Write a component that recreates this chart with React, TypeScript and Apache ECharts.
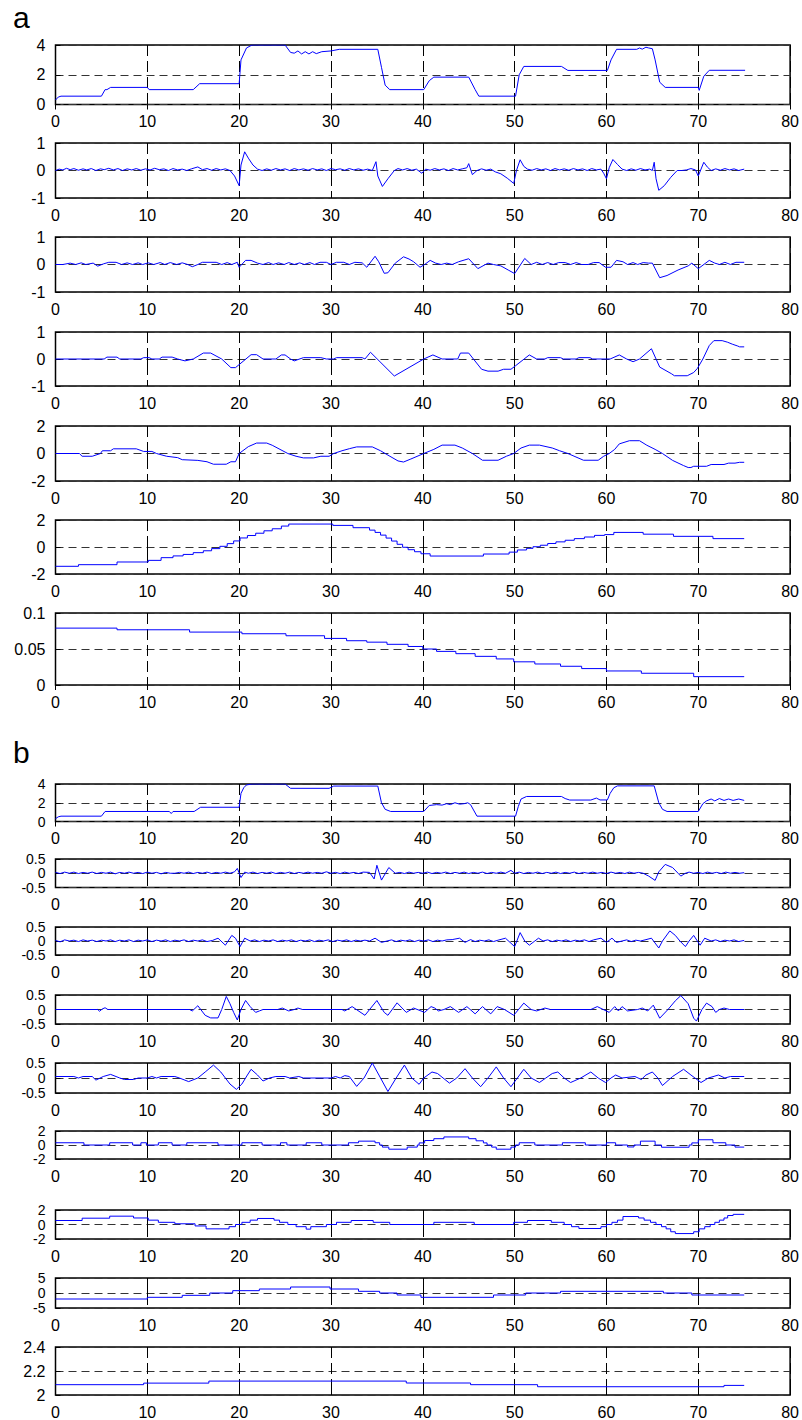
import React, { useEffect, useRef } from "react";
import * as echarts from "echarts";

type P = [number, number];

// ---------- panel a ----------
const a1Data: P[] = [[0,0.3],[0.3,0.5],[0.6,0.56],[5.0,0.56],[5.4,1.0],[5.6,1.0],[6.0,1.15],[10.0,1.15],[10.2,1.0],[15.0,1.0],[15.7,1.4],[20.0,1.4],[20.2,3.0],[20.8,3.8],[21.4,4.0],[25.0,4.0],[25.6,3.5],[26.0,3.45],[26.4,3.6],[26.8,3.4],[27.2,3.55],[27.6,3.4],[28.0,3.55],[28.4,3.42],[29.0,3.55],[30.0,3.6],[30.9,3.71],[35.1,3.71],[35.5,2.5],[35.9,1.3],[36.4,1.0],[40.1,1.0],[40.7,1.6],[41.2,1.84],[45.0,1.84],[45.7,1.0],[46.1,0.56],[50.1,0.56],[50.5,2.0],[51.0,2.56],[55.1,2.56],[55.8,2.29],[60.1,2.29],[60.5,3.0],[61.1,3.71],[63.3,3.71],[63.6,3.8],[63.9,3.72],[64.3,3.85],[64.6,3.8],[65.0,3.75],[65.3,3.0],[65.8,1.5],[66.4,1.15],[70.0,1.15],[70.1,0.95],[70.6,1.9],[71.2,2.3],[75.1,2.3]];

const a2Data: P[] = [[0,0],[0.4,0.05],[0.8,0.02],[1.2,0.08],[1.6,0.03],[2.0,0.07],[2.5,0.01],[3.0,0.06],[3.4,0.02],[3.9,0.07],[4.4,0.0],[4.9,0.06],[5.3,0.03],[5.8,0.08],[6.3,0.02],[6.8,0.07],[7.3,0.0],[7.8,0.06],[8.3,0.02],[8.8,0.07],[9.3,0.01],[9.8,0.06],[10.3,0.02],[10.8,0.08],[11.3,0.03],[11.8,0.06],[12.3,0.0],[12.8,0.07],[13.3,0.02],[13.8,0.05],[14.3,0.0],[14.8,0.06],[15.5,0.13],[16.0,0.03],[16.5,0.07],[17.0,0.01],[17.5,0.07],[18.0,0.02],[18.5,0.06],[19.0,0.0],[19.5,-0.2],[20.0,-0.55],[20.2,0.2],[20.6,0.68],[21.0,0.45],[21.5,0.2],[22.0,0.05],[22.5,0.0],[23.0,0.06],[23.5,0.01],[24.0,0.07],[24.5,0.02],[25,0.06],[25.5,0],[26,0.07],[26.5,0.02],[27,0.06],[27.5,0.01],[28,0.07],[28.5,0.02],[29,0.06],[29.5,0],[30,0.07],[30.5,0.03],[31,0.06],[31.5,0.01],[32,0.07],[32.5,0.02],[33,0.06],[33.5,0.01],[34,0.05],[34.5,0.0],[34.9,0.32],[35.1,-0.2],[35.6,-0.58],[36.2,-0.3],[36.9,0.0],[37.3,0.07],[37.8,0.02],[38.3,0.07],[38.8,0.01],[39.3,0.05],[39.9,-0.1],[40.3,0.05],[40.8,0.01],[41.3,0.07],[41.8,0.02],[42.3,0.06],[42.8,0.0],[43.3,0.07],[43.8,0.02],[44.3,0.06],[44.8,0.1],[45.0,0.25],[45.4,-0.15],[45.9,0.0],[46.4,0.06],[46.9,0.01],[47.4,0.05],[47.9,-0.05],[48.5,-0.12],[49.2,-0.28],[49.9,-0.47],[50.2,0.0],[50.6,0.39],[51.0,0.15],[51.4,0.05],[51.9,0.01],[52.4,0.07],[52.9,0.02],[53.4,0.06],[53.9,0.0],[54.4,0.07],[54.9,0.02],[55.4,0.06],[55.9,0.01],[56.4,0.07],[56.9,0.02],[57.4,0.06],[57.9,0.0],[58.4,0.07],[58.9,0.02],[59.4,0.05],[59.7,-0.1],[60.0,-0.3],[60.3,0.1],[60.7,0.4],[61.2,0.22],[61.7,0.05],[62.2,0.0],[62.7,0.06],[63.2,0.01],[63.7,0.07],[64.2,0.02],[64.7,0.05],[65.0,0.0],[65.2,0.3],[65.4,-0.3],[65.7,-0.72],[66.3,-0.55],[67.0,-0.25],[67.7,0.0],[68.2,0.0],[68.7,0.02],[69.2,0.07],[69.7,0.02],[70.0,-0.2],[70.6,0.3],[71.0,0.12],[71.4,0.0],[71.9,0.06],[72.4,0.01],[72.9,0.07],[73.4,0.02],[73.9,0.06],[74.4,0.0],[75.0,0.05]];

const a3Data: P[] = [[0,0],[0.8,0.0],[1.6,0.05],[2.2,0.0],[2.8,0.06],[3.3,0.0],[4.1,0.05],[4.6,-0.06],[5.2,0.02],[5.8,0.08],[6.6,0.08],[7.2,0.0],[7.8,0.06],[8.4,0.0],[9.0,0.06],[9.5,0.0],[10.1,0.06],[10.7,0.0],[11.4,0.07],[11.9,0.0],[12.5,0.07],[13.2,0.0],[13.8,0.06],[14.4,0.0],[14.9,-0.08],[15.5,0.0],[16.0,0.08],[17.5,0.08],[18.1,0.0],[18.7,0.07],[19.2,0.0],[19.8,0.08],[20.0,-0.1],[20.7,0.15],[21.3,0.15],[22.0,0.05],[22.6,0.0],[23.2,0.07],[23.7,0.0],[24.3,0.06],[24.9,0.0],[25.4,0.07],[26.0,0.0],[26.6,0.06],[27.1,0.0],[27.7,0.07],[28.2,0.0],[28.8,0.08],[29.5,0.08],[30.0,0.0],[30.6,0.08],[31.4,0.08],[32.0,0.0],[32.6,0.08],[33.4,0.06],[33.9,-0.1],[34.8,0.3],[35.2,0.1],[35.8,-0.32],[36.2,-0.3],[37.0,0.05],[37.9,0.28],[38.5,0.2],[39.0,0.1],[39.7,-0.1],[40.2,0.0],[40.8,0.15],[41.4,0.05],[42.0,0.0],[42.6,0.05],[43.2,0.0],[43.9,0.1],[45.0,0.21],[46.0,-0.15],[47.1,0.05],[47.7,0.0],[48.5,-0.05],[49.3,-0.2],[50.0,-0.33],[51.1,0.22],[51.8,0.0],[52.4,0.08],[53.0,0.0],[53.6,0.07],[54.2,0.0],[54.8,0.07],[55.5,0.07],[56.1,0.0],[56.7,0.07],[57.3,0.0],[58.0,0.0],[58.6,0.07],[59.2,0.07],[59.9,-0.1],[60.5,-0.1],[61.1,0.15],[61.8,0.1],[62.3,0.0],[62.9,0.07],[63.4,0.0],[64.0,0.07],[64.6,0.05],[65.0,0.05],[65.8,-0.48],[66.6,-0.4],[67.8,-0.2],[68.9,-0.05],[69.3,0.05],[70.0,-0.15],[71.2,0.15],[71.8,0.05],[72.3,0.0],[72.9,0.08],[73.5,0.0],[74.1,0.08],[75.0,0.08]];

const a4Data: P[] = [[0,0],[5.3,0],[5.6,0.07],[6.7,0.07],[7.0,0],[9.3,0],[9.6,0.05],[10.2,0.05],[10.5,0],[11.3,0],[11.6,0.07],[12.7,0.07],[13.3,0],[14.1,-0.07],[15.0,0],[16.1,0.22],[16.9,0.22],[18.1,0],[19.1,-0.32],[19.6,-0.32],[21.3,0.16],[21.9,0.16],[22.6,0],[24.0,0],[24.6,0.15],[25.0,0.15],[25.6,0],[26.0,-0.07],[27.0,0.05],[28.9,0.05],[29.5,0],[30.3,0],[30.6,0.05],[33.4,0.05],[33.7,0],[34.3,0.25],[36.9,-0.63],[40.1,0],[41.1,0.15],[42.1,0],[43.8,0],[44.1,0.22],[45.0,0.22],[46.4,-0.38],[47.1,-0.45],[48.2,-0.45],[48.8,-0.38],[49.6,-0.38],[50.1,-0.25],[51.6,0.15],[52.4,0],[53.3,0],[53.6,0.05],[55.0,0.05],[55.3,0],[56.7,0],[57.0,0.05],[58.2,0.05],[58.5,0],[60.4,0],[61.4,0.15],[62.2,0],[62.9,-0.1],[63.6,0],[64.9,0.38],[65.8,-0.3],[67.1,-0.55],[67.4,-0.62],[68.8,-0.62],[69.5,-0.5],[69.9,-0.35],[70.5,0],[71.2,0.5],[71.7,0.68],[72.6,0.68],[73.2,0.62],[73.7,0.55],[74.3,0.48],[74.5,0.45],[75.0,0.45]];

const a5Data: P[] = [[0,0],[2.6,0],[2.9,-0.2],[4.0,-0.2],[4.9,0],[5.1,0.2],[6.0,0.2],[6.3,0.34],[8.8,0.34],[9.6,0.15],[10.5,0.15],[11.0,0],[12.1,-0.2],[13.3,-0.3],[13.8,-0.45],[15.5,-0.5],[16.5,-0.6],[17.2,-0.78],[18.6,-0.78],[19.1,-0.6],[19.6,-0.6],[20.0,0],[21.0,0.5],[21.9,0.76],[23.0,0.76],[23.6,0.6],[25.3,0],[26.2,-0.2],[27.0,-0.32],[28.1,-0.32],[28.9,-0.2],[29.8,-0.2],[30.3,0],[31.2,0.2],[32.0,0.35],[32.8,0.48],[34.5,0.48],[35.4,0.2],[35.9,0],[37.3,-0.54],[37.9,-0.62],[38.7,-0.4],[40.1,0],[41.2,0.3],[42.1,0.61],[43.5,0.61],[44.3,0.4],[45.4,0],[46.5,-0.49],[48.2,-0.49],[49.1,-0.2],[49.9,0],[50.7,0.4],[51.6,0.61],[52.7,0.61],[54.1,0.4],[54.9,0.2],[55.8,0],[57.5,-0.49],[59.1,-0.49],[59.7,-0.2],[60.3,0],[60.9,0.3],[61.4,0.7],[62.5,0.93],[63.6,0.93],[64.4,0.6],[65.3,0.3],[66.1,0],[67.2,-0.5],[68.4,-0.88],[68.9,-1.02],[69.2,-1.02],[69.5,-0.93],[70.9,-0.93],[71.4,-0.8],[72.8,-0.8],[73.3,-0.7],[74.0,-0.7],[74.5,-0.64],[75.0,-0.64]];

const a6Data: P[] = [[0,-1.43],[2.5,-1.31],[6.7,-1.11],[10.1,-0.99],[11.5,-0.79],[12.8,-0.66],[13.9,-0.55],[15.0,-0.42],[16.1,-0.28],[17.0,-0.12],[17.9,0.05],[18.7,0.25],[19.4,0.45],[20.1,0.67],[20.9,0.85],[21.8,1.02],[22.7,1.2],[23.6,1.35],[24.6,1.55],[25.4,1.7],[30.2,1.6],[32.4,1.43],[34.2,1.25],[34.8,1.08],[35.4,0.88],[36.0,0.66],[36.6,0.44],[37.2,0.2],[37.8,-0.02],[38.4,-0.2],[39.1,-0.35],[39.8,-0.5],[40.8,-0.67],[46.6,-0.52],[49.4,-0.38],[50.3,-0.22],[51.3,-0.1],[52.0,0.02],[52.8,0.13],[53.6,0.26],[54.5,0.38],[55.5,0.5],[56.5,0.62],[57.6,0.74],[58.7,0.86],[59.8,0.92],[60.8,1.08],[64.0,0.95],[67.3,0.79],[71.6,0.62],[75.0,0.62]];

const a7Data: P[] = [[0,0.079],[6.7,0.0767],[14.6,0.0735],[20.3,0.0712],[25.1,0.0684],[29.3,0.0647],[31.7,0.0615],[33.9,0.0595],[36.1,0.0565],[38.4,0.0535],[40.0,0.05],[41.5,0.0467],[43.6,0.0435],[45.7,0.0398],[48.0,0.0362],[49.9,0.0322],[52.2,0.0292],[55.0,0.026],[57.3,0.0228],[60.0,0.0195],[63.8,0.0163],[69.5,0.0116],[75.0,0.0116]];

// ---------- panel b ----------
const b1Data: P[] = [[0,0.3],[0.3,0.5],[0.6,0.57],[5.0,0.57],[5.4,1.07],[12.4,1.07],[12.6,0.85],[12.8,1.07],[15.1,1.07],[15.8,1.52],[20.0,1.52],[20.2,3.0],[20.5,3.6],[20.8,3.9],[21.4,4.0],[25.0,4.0],[25.6,3.54],[29.8,3.54],[30.3,3.78],[35.1,3.78],[35.5,2.0],[35.9,1.3],[36.5,1.07],[40.1,1.07],[40.7,1.71],[41.5,1.8],[42.1,1.75],[42.6,1.9],[43.0,1.8],[43.5,2.0],[44.0,1.85],[44.5,1.9],[44.9,2.0],[45.2,1.8],[45.9,0.57],[50.1,0.57],[50.4,1.6],[50.7,2.4],[51.3,2.67],[55.1,2.67],[55.5,2.45],[56.0,2.29],[58.3,2.29],[58.9,2.5],[59.3,2.3],[60.1,2.3],[60.4,3.0],[60.8,3.6],[61.2,3.8],[65.2,3.8],[65.7,2.0],[66.1,1.3],[66.6,1.07],[70.0,1.07],[70.5,1.9],[70.9,2.2],[71.4,2.4],[71.8,2.2],[72.3,2.45],[72.8,2.25],[73.3,2.4],[73.8,2.25],[74.4,2.4],[75.0,2.25]];

const b2Data: P[] = [[0,0.03],[0.5,-0.01],[1,0.04],[1.5,0],[2,0.04],[2.5,-0.01],[3,0.03],[3.5,0],[4,0.04],[4.5,-0.01],[5,0.03],[5.5,0],[6,0.04],[6.5,-0.02],[7,0.03],[7.5,0],[8,0.04],[8.5,0],[9,0.03],[9.5,-0.01],[10,0.04],[10.5,0],[11,0.03],[11.5,-0.02],[12,0.03],[12.5,0],[13,0.0],[13.5,0.03],[14,0],[14.5,0.04],[15,-0.01],[15.5,0.03],[16,0],[16.5,0.04],[17,-0.01],[17.5,0.03],[18,0],[18.5,0.04],[19,0],[19.5,0.05],[19.8,0.17],[20.2,-0.15],[20.6,0.04],[21,0],[21.5,0.04],[22,-0.01],[22.5,0.03],[23,0],[23.5,0.04],[24,-0.01],[24.5,0.03],[25,0],[25.5,0.04],[26,-0.01],[26.5,0.03],[27,0],[27.5,0.04],[28,0],[28.5,0.03],[29,0],[29.5,0.05],[30,0],[30.5,0.03],[31,-0.01],[31.5,0.04],[32,0],[32.5,0.03],[33,-0.01],[33.5,0.04],[34.2,0.03],[34.7,-0.2],[35.0,0.28],[35.5,-0.24],[36.3,0.2],[37.0,0],[37.5,0.03],[38,-0.01],[38.5,0.04],[39,0],[39.5,0.03],[40,0],[40.5,0.04],[41,-0.01],[41.5,0.03],[42,0],[42.5,0.04],[43,-0.01],[43.5,0.03],[44,0],[44.5,0.04],[45,-0.01],[45.5,0.03],[46,0],[46.5,0.04],[47,-0.01],[47.5,0.03],[48,0],[48.5,0.04],[49,0],[49.6,0.1],[50,0],[50.5,0.04],[51,-0.01],[51.5,0.03],[52,0],[52.5,0.04],[53,-0.01],[53.5,0.03],[54,0],[54.5,0.04],[55,-0.01],[55.5,0.03],[56,0],[56.5,0.04],[57,-0.01],[57.5,0.03],[58,0],[58.5,0.04],[59,0],[59.5,0.03],[60,-0.01],[60.5,0.04],[61,0],[61.5,0.03],[62,-0.01],[62.5,0.04],[63,0],[63.5,0.03],[64,0],[64.6,-0.1],[65.3,-0.25],[65.7,0.05],[66.4,0.31],[67.2,0.2],[67.8,0],[68.1,-0.1],[68.6,0],[69,0.04],[69.5,0],[70,0.03],[70.5,-0.01],[71,0.04],[71.5,0],[72,0.03],[72.5,-0.01],[73,0.04],[73.5,0],[74,0.03],[74.5,0],[75,0.02]];

const b3Data: P[] = [[0,0.02],[0.5,-0.03],[1,0.04],[1.5,0],[2,0.03],[2.5,-0.02],[3,0.04],[3.5,0],[4,0.03],[4.5,-0.02],[5,0.03],[5.5,0],[6,0.04],[6.5,-0.02],[7,0.03],[7.5,0],[8,0.04],[8.5,-0.02],[9,0.03],[9.5,0],[10,0.04],[10.5,-0.02],[11,0.03],[11.5,0],[12,0.04],[12.5,-0.02],[13,0.03],[13.5,0],[14,0.04],[14.5,-0.02],[15,0.03],[15.5,0],[16,0.04],[16.5,-0.02],[17.1,0.02],[17.7,0.1],[18.5,-0.15],[19.2,0.2],[19.6,0.1],[20.1,-0.2],[20.6,0.1],[21.2,0],[21.7,0.04],[22.2,-0.02],[22.7,0.03],[23.2,0],[23.7,0.04],[24.2,-0.02],[24.7,0.03],[25.2,0],[25.7,0.04],[26.2,-0.02],[26.7,0.03],[27.2,0],[27.7,0.04],[28.2,-0.02],[28.7,0.03],[29.2,0],[29.7,0.04],[30.2,-0.02],[30.7,0.03],[31.2,0],[31.7,0.04],[32.2,-0.02],[32.7,0.03],[33.2,0],[33.7,0.03],[34.2,0],[34.8,0.1],[35.5,-0.05],[36.1,0],[36.6,0.04],[37.1,-0.02],[37.6,0.03],[38.1,0],[38.6,0.04],[39.1,-0.02],[39.6,0.03],[40.1,0],[40.6,0.04],[41.1,-0.02],[41.6,0.03],[42.1,0],[42.6,0.04],[43.2,0.05],[44.0,0.1],[44.6,-0.05],[45.2,0.05],[45.7,-0.02],[46.2,0.03],[46.7,0],[47.2,0.04],[47.7,-0.02],[48.2,0.03],[49.0,0.1],[50.0,-0.2],[50.6,0.3],[51.1,0],[51.6,-0.15],[52.2,0],[52.6,0.1],[53.1,0],[53.6,0.04],[54.1,-0.02],[54.6,0.03],[55.1,0],[55.6,0.04],[56.1,-0.02],[56.6,0.03],[57.1,0],[57.6,0.04],[58.1,-0.02],[58.6,0.04],[59.4,0.1],[60.0,-0.05],[60.6,0.1],[61.1,-0.05],[61.7,0],[62.2,0.04],[62.7,-0.02],[63.2,0.03],[63.7,0],[64.2,0.04],[64.9,0.1],[65.7,-0.25],[66.1,0],[66.9,0.36],[67.5,0.2],[68.0,0],[68.6,-0.2],[69.0,0],[69.5,0.2],[69.9,0],[70.2,-0.15],[70.7,0.1],[71.4,0],[71.9,0.04],[72.4,-0.02],[72.9,0.03],[73.4,0],[73.9,0.04],[74.4,-0.02],[75,0.02]];

const b4Data: P[] = [[0,0],[4.6,0],[4.8,-0.06],[5.1,0.02],[5.4,0.06],[5.7,0],[14.6,0],[14.9,-0.05],[15.5,0.13],[16.3,-0.2],[16.9,-0.29],[17.7,-0.29],[18.1,0],[18.6,0.45],[19.0,0.2],[19.4,-0.1],[19.8,-0.36],[20.2,0],[20.7,0.31],[21.2,0.1],[21.8,-0.1],[22.2,-0.05],[22.6,0],[24.2,0],[24.7,0.05],[25.4,-0.05],[26.0,0],[26.4,0.05],[26.9,0],[31.2,0],[31.5,-0.05],[32.3,0.1],[33.7,-0.2],[35.0,0.31],[35.8,-0.1],[36.2,-0.2],[37.2,0.23],[38.2,-0.1],[39.0,0.05],[39.8,-0.05],[40.2,-0.1],[40.9,0.1],[41.3,0.05],[41.7,-0.05],[42.3,0],[43.0,0.1],[43.9,-0.1],[44.8,0.1],[45.7,-0.15],[46.5,0.1],[47.4,-0.15],[48.1,0.1],[48.9,0],[49.9,-0.2],[51.0,0.22],[51.8,0],[52.4,-0.05],[53.3,0.05],[53.9,0],[58.3,0],[59.0,0.1],[60.3,-0.1],[60.9,0.1],[61.3,-0.05],[61.7,0.1],[62.3,-0.05],[63.4,0],[63.9,0.05],[64.5,-0.05],[65.1,0.15],[65.8,-0.3],[66.7,0],[67.5,0.3],[68.1,0.48],[68.9,0.2],[69.5,-0.3],[69.8,-0.4],[70.4,0],[70.9,0.22],[71.5,0.1],[71.9,-0.1],[72.3,0],[72.8,0.05],[73.4,0],[75,0]];

const b5Data: P[] = [[0,0.05],[2.0,0.05],[2.5,0],[3.0,0.05],[4.0,0.05],[4.4,-0.07],[5.2,0.05],[6.0,0.12],[7.0,0],[7.5,-0.05],[8.5,-0.05],[9.0,0],[10.0,0],[10.5,0.05],[11.0,0],[11.5,0.05],[13.0,0.05],[13.5,0],[14.5,-0.12],[15.5,0],[16.3,0.2],[17.2,0.43],[18.0,0.2],[19.0,-0.2],[19.7,-0.38],[20.3,-0.2],[20.9,0.1],[21.3,0.29],[22.0,0.1],[22.6,-0.1],[23.3,0],[24.0,0.05],[25.0,0.05],[25.5,0],[26.5,0.05],[27.0,0],[30.0,0],[30.5,0.05],[31.0,0],[31.5,0.08],[32.0,0.05],[32.8,-0.28],[33.6,0],[34.5,0.5],[35.4,0],[36.2,-0.45],[37.1,0],[38.0,0.43],[38.8,0],[39.6,-0.21],[40.1,0],[41.0,0.2],[41.6,0.15],[42.9,-0.17],[43.7,0],[44.6,0.31],[45.4,0],[46.3,-0.29],[47.1,0],[48.0,0.37],[48.8,0],[49.6,-0.29],[50.3,0],[51.0,0.29],[51.8,0],[52.7,-0.15],[53.4,0],[54.1,0.15],[54.7,0.2],[55.4,0],[56.1,-0.15],[57.2,0],[58.3,0.2],[59.1,0],[59.9,-0.15],[60.5,0],[61.0,0.1],[61.7,0],[63.1,0.05],[63.8,-0.05],[64.3,0.1],[65.0,0.2],[65.6,0],[66.1,-0.25],[67.2,0.05],[68.4,0.29],[69.2,0.1],[70.3,-0.15],[71.1,0],[72.2,0.1],[72.9,0],[73.5,0.05],[75.0,0.05]];

const b6Data: P[] = [[0,0.32],[3.1,0],[5.9,0.32],[8.4,0],[9.3,0.32],[9.9,0],[11.2,0.32],[12.7,0],[14.3,0.32],[17.7,0],[20.3,0.32],[22.5,0],[24.5,0.32],[25.2,0],[27.3,0.32],[29.0,0],[31.9,0.32],[33.0,0.55],[34.8,0.32],[35.3,0],[35.6,-0.3],[36.3,-0.6],[38.3,-0.3],[39.4,0],[39.6,0.3],[40.2,0.64],[41.2,0.9],[42.3,1.15],[45.0,0.9],[45.8,0.6],[46.6,0.3],[47.0,0],[47.5,-0.3],[48.0,-0.6],[49.6,-0.3],[50.1,0],[50.5,0.32],[52.2,0],[55.2,0.32],[57.7,0],[60.0,0.32],[61.0,0],[62.3,-0.28],[63.0,0],[63.7,0.55],[65.3,0],[66.0,-0.32],[69.0,0],[69.3,0.3],[70.0,0.75],[71.6,0.32],[73.0,0],[74.0,-0.3],[75.0,-0.3]];

const b7Data: P[] = [[0,0.55],[2.9,0.87],[5.9,1.15],[8.5,0.9],[10.1,0.6],[11.2,0.3],[13.0,0.1],[15.2,-0.2],[16.4,-0.6],[18.9,-0.3],[19.6,0],[20.3,0.3],[21.2,0.6],[22.0,0.83],[23.8,0.6],[24.4,0.3],[25.3,0],[26.2,-0.3],[27.3,-0.64],[27.8,-0.3],[29.5,0],[30.6,0.3],[32.2,0.55],[34.6,0.3],[36.4,0],[41.2,0.3],[45.6,0],[49.9,0.3],[51.4,0.55],[54.0,0.3],[55.4,0],[56.2,-0.3],[57.0,-0.55],[59.4,-0.3],[60.0,0],[60.6,0.3],[61.2,0.6],[61.8,1.1],[63.5,0.9],[64.1,0.6],[64.8,0.3],[65.4,0],[66.0,-0.3],[66.5,-0.6],[67.0,-1.0],[67.5,-1.25],[69.5,-1.0],[70.1,-0.6],[70.7,-0.3],[71.3,0],[71.8,0.3],[72.3,0.6],[72.8,0.9],[73.2,1.24],[73.8,1.4],[75.0,1.4]];

const b8Data: P[] = [[0,-2.0],[10.0,-1.44],[13.8,-0.78],[16.8,0],[19.3,0.78],[22.2,1.33],[25.6,2.0],[29.9,1.33],[33.0,0.56],[35.3,0],[37.2,-0.67],[39.8,-1.44],[47.7,-0.67],[51.2,0],[55.0,0.56],[66.2,0],[69.3,-0.67],[75.0,-0.67]];

const b9Data: P[] = [[0,2.086],[9.6,2.099],[16.7,2.116],[38.2,2.1],[45.2,2.086],[52.5,2.069],[72.8,2.08],[75.0,2.08]];

// axis ranges: [min, max, interval]
const yRanges: [number, number, number][] = [
  [0, 4, 2], [-1, 1, 1], [-1, 1, 1], [-1, 1, 1], [-2, 2, 2], [-2, 2, 2], [0, 0.1, 0.05],
  [0, 4, 2], [-0.5, 0.5, 0.5], [-0.5, 0.5, 0.5], [-0.5, 0.5, 0.5], [-0.5, 0.5, 0.5],
  [-2, 2, 2], [-2, 2, 2], [-5, 5, 5], [2, 2.4, 0.2],
];
const xRange: [number, number, number] = [0, 80, 10];
const seriesData: P[][] = [a1Data, a2Data, a3Data, a4Data, a5Data, a6Data, a7Data, b1Data, b2Data, b3Data, b4Data, b5Data, b6Data, b7Data, b8Data, b9Data];
const stepped: boolean[] = [false, false, false, false, false, true, true, false, false, false, false, false, true, true, true, true];
const panelLabels = ["a", "b"];

// layout (pixels)
const panelTops = [45, 143, 237, 332, 426, 520, 613, 784, 859, 927, 995, 1063, 1131, 1210, 1278, 1347];
const panelBottoms = [104.5, 198, 292, 386, 481, 574, 685, 821.5, 887.5, 955, 1024, 1093, 1159, 1239, 1308, 1395.5];
const LEFT = 55.5;
const RIGHT = 791;

const FONT = '"Liberation Sans", Arial, Helvetica, sans-serif';

export default function App() {
  const ref = useRef<HTMLDivElement>(null);
  useEffect(() => {
    if (!ref.current) return;
    const chart = echarts.init(ref.current, undefined, { renderer: "svg" });
    const n = seriesData.length;
    const grids = panelTops.map((t, i) => ({
      left: LEFT,
      top: t,
      width: RIGHT - LEFT,
      height: panelBottoms[i] - t,
      show: true,
      borderColor: "#000",
      borderWidth: 1.5,
      backgroundColor: "transparent",
      containLabel: false,
    }));
    const fmt = (v: number) => String(+v.toFixed(4));
    const tick = { show: true, inside: true, length: 5, lineStyle: { color: "#000", width: 1 } };
    const xAxes: any[] = [];
    for (let i = 0; i < n; i++) {
      xAxes.push({
        type: "value", gridIndex: i, min: xRange[0], max: xRange[1], interval: xRange[2],
        axisLine: { show: false },
        axisTick: tick,
        axisLabel: { show: true, margin: 9, fontSize: 16, fontFamily: FONT, color: "#000", showMinLabel: true, showMaxLabel: true, hideOverlap: false, formatter: fmt },
        splitLine: { show: true, lineStyle: { color: "#000", width: 1, type: [11, 5] } },
        z: 0,
      });
    }
    for (let i = 0; i < n; i++) {
      xAxes.push({
        type: "value", gridIndex: i, position: "top", min: xRange[0], max: xRange[1], interval: xRange[2],
        axisLine: { show: false },
        axisTick: tick,
        axisLabel: { show: false },
        splitLine: { show: false },
        z: 0,
      });
    }
    const ySize = (i: number) => (panelBottoms[i] - panelTops[i] < 45 ? 14 : 16);
    const yAxes: any[] = [];
    // primary: min/max labels, ticks, split lines
    yRanges.forEach((r, i) => {
      yAxes.push({
        type: "value", gridIndex: i, position: "left", min: r[0], max: r[1], interval: r[2],
        axisLine: { show: false },
        axisTick: tick,
        axisLabel: {
          show: true, margin: 10, fontSize: ySize(i), lineHeight: ySize(i) - 2, fontFamily: FONT, color: "#000",
          showMinLabel: true, showMaxLabel: true, hideOverlap: false,
          formatter: (v: number) => (Math.abs(v - r[0]) < 1e-9 || Math.abs(v - r[1]) < 1e-9 ? fmt(v) : ""),
        },
        splitLine: { show: true, lineStyle: { color: "#333", width: 1, type: [8, 5] } },
        z: 0,
      });
    });
    // secondary: middle labels only
    yRanges.forEach((r, i) => {
      yAxes.push({
        type: "value", gridIndex: i, position: "left", offset: 0, min: r[0], max: r[1], interval: r[2],
        axisLine: { show: false },
        axisTick: { show: false },
        axisLabel: {
          show: true, margin: 10, fontSize: ySize(i), lineHeight: ySize(i) - 2, fontFamily: FONT, color: "#000",
          showMinLabel: false, showMaxLabel: false, hideOverlap: false, formatter: fmt,
        },
        splitLine: { show: false },
        z: 0,
      });
    });
    const series = seriesData.map((d, i) => ({
      type: "line", xAxisIndex: i, yAxisIndex: i, data: d,
      step: stepped[i] ? "end" : false,
      showSymbol: false, symbol: "none", silent: true, clip: true,
      z: 10,
      lineStyle: { color: "#0000ff", width: 1 },
      itemStyle: { color: "#0000ff" },
    }));
    chart.setOption({
      animation: false,
      backgroundColor: "#fff",
      grid: grids,
      xAxis: xAxes,
      yAxis: yAxes,
      series,
      graphic: [
        { type: "text", left: 13, top: 2, style: { text: panelLabels[0], font: `30px ${FONT}`, fill: "#000" } },
        { type: "text", left: 13, top: 737, style: { text: panelLabels[1], font: `30px ${FONT}`, fill: "#000" } },
      ],
    });
    return () => chart.dispose();
  }, []);
  return <div ref={ref} style={{ position: "absolute", left: 0, top: 0, width: 802, height: 1420 }} />;
}
